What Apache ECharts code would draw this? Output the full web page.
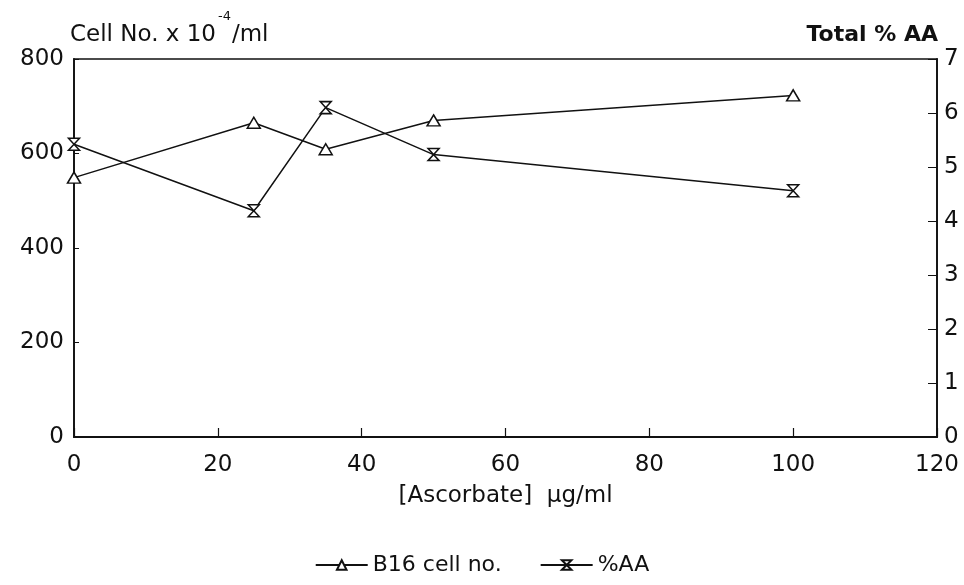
<!DOCTYPE html>
<html lang="en">
<head>
    <meta charset="UTF-8">
    <title>Ascorbate</title>
</head>
<script src="https://cdn.jsdelivr.net/npm/echarts@6.0.0/dist/echarts.min.js" type="text/javascript"></script>
<body style="margin:0;background:#fff;">
<div id="chart" style="width:964px;height:585px;"></div>

<script type="text/javascript">
    // data
    var ascorbate = [0, 25, 35, 50, 100];
    var cellNo = [549, 665, 609, 670, 723];
    var pctAA = [5.42, 4.19, 6.10, 5.23, 4.56];
    var xTicks = [0, 20, 40, 60, 80, 100, 120];

    var hourglass = 'path://M0,0 L10,0 L0,10 L10,10 Z';
    var font = 'DejaVu Sans';
    var ink = '#111';

    function pairs(xs, ys) {
        return xs.map(function (x, i) { return [x, ys[i]]; });
    }

    var chart = echarts.init(document.getElementById('chart'));
    var option = {
        backgroundColor: '#fff',
        animation: false,
        textStyle: { fontFamily: font, color: ink },
        grid: {
            left: 74, right: 27, top: 59, bottom: 148,
            show: true, borderColor: ink, borderWidth: 1.5
        },
        graphic: [
            {
                type: 'text', left: 70, top: 10,
                style: {
                    text: '{a|Cell No. x 10}{s|-4}{a|/ml}',
                    rich: {
                        a: { fontFamily: font, fontSize: 23, lineHeight: 25, verticalAlign: 'bottom', fill: ink },
                        s: { fontFamily: font, fontSize: 13, lineHeight: 15, padding: [0, 1, 24, 2], verticalAlign: 'bottom', fill: ink }
                    }
                }
            },
            {
                type: 'text', right: 26, top: 24,
                style: { text: 'Total % AA', fontFamily: font, fontSize: 22, fontWeight: 'bold', fill: ink }
            }
        ],
        legend: {
            bottom: 4, left: 'center',
            itemWidth: 52, itemHeight: 12, itemGap: 38,
            textStyle: { fontFamily: font, fontSize: 22, color: ink },
            data: ['B16 cell no.', '%AA']
        },
        xAxis: {
            type: 'value', min: 0, max: 120, interval: 20,
            name: '[Ascorbate]  μg/ml', nameLocation: 'middle', nameGap: 48,
            nameTextStyle: { fontFamily: font, fontSize: 23, color: ink },
            axisLine: { lineStyle: { color: ink, width: 1.8 } },
            axisTick: { inside: true, length: 9, lineStyle: { color: ink, width: 1.2 } },
            axisLabel: { fontSize: 23, color: ink, margin: 17 },
            splitLine: { show: false },
            data: xTicks
        },
        yAxis: [
            {
                type: 'value', min: 0, max: 800, interval: 200, position: 'left',
                axisLine: { show: true, lineStyle: { color: ink, width: 1.8 } },
                axisTick: { show: true, inside: true, length: 5, lineStyle: { color: ink } },
                axisLabel: { fontSize: 23, color: ink, margin: 10 },
                splitLine: { show: false }
            },
            {
                type: 'value', min: 0, max: 7, interval: 1, position: 'right',
                axisLine: { show: true, lineStyle: { color: ink, width: 1.8 } },
                axisTick: { show: true, inside: true, length: 9, lineStyle: { color: ink } },
                axisLabel: { fontSize: 23, color: ink, margin: 7 },
                splitLine: { show: false }
            }
        ],
        series: [
            {
                name: 'B16 cell no.', type: 'line', yAxisIndex: 0,
                data: pairs(ascorbate, cellNo),
                symbol: 'triangle', symbolSize: [13, 11],
                lineStyle: { color: ink, width: 1.5 },
                itemStyle: { color: '#fff', borderColor: ink, borderWidth: 1.5 }
            },
            {
                name: '%AA', type: 'line', yAxisIndex: 1,
                data: pairs(ascorbate, pctAA),
                symbol: hourglass, symbolSize: [11, 12],
                lineStyle: { color: ink, width: 1.5 },
                itemStyle: { color: '#fff', borderColor: ink, borderWidth: 1.5 }
            }
        ]
    };
    chart.setOption(option);
</script>
</body>
</html>
